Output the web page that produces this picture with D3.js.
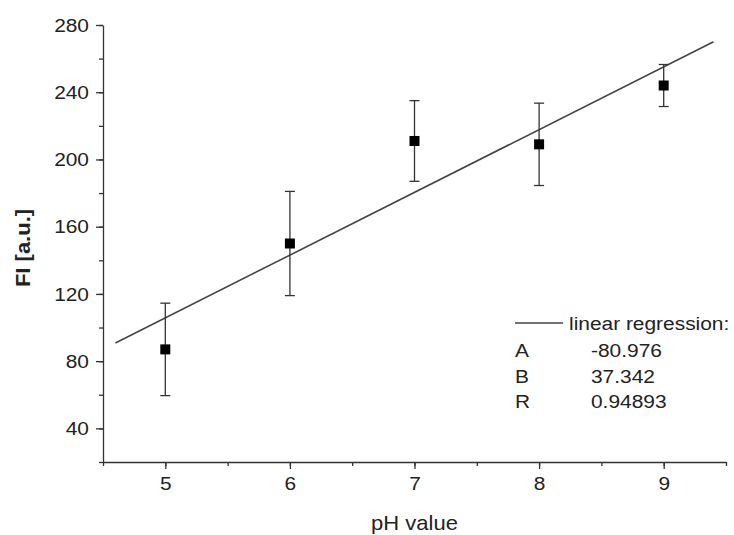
<!DOCTYPE html>
<html>
<head>
<meta charset="utf-8">
<script src="https://cdn.jsdelivr.net/npm/d3@7"></script>
<style>
  body { margin: 0; background: #fff; }
  text { font-family: "Liberation Sans", Arial, sans-serif; fill: #222; }
</style>
</head>
<body>
<div class="chart"></div>
<script>
// measured values
var phValues = [5, 6, 7, 8, 9];
var fiValues = [87, 150, 211, 209, 244];
var fiErrors = [27.5, 31, 24, 24.5, 12.5];

// regression from the legend
var regA = -80.976;
var regB = 37.342;
var regR = 0.94893;
var regRange = [4.6, 9.4];

var xTicks = [5, 6, 7, 8, 9];
var yTicks = [40, 80, 120, 160, 200, 240, 280];

var width = 734, height = 535;
var margin = { top: 25, right: 8, bottom: 73, left: 103 };
var stretch = 1.1; // the original font runs a bit wide

var svg = d3.select('.chart')
  .append('svg')
  .attr('width', width)
  .attr('height', height);

var xScale = d3.scaleLinear()
  .domain([4.5, 9.5])
  .range([margin.left, width - margin.right]);

var yScale = d3.scaleLinear()
  .domain([20, 280])
  .range([height - margin.bottom, margin.top]);

var axisColor = '#333';

// minor ticks first, majors on top
svg.append('g')
  .attr('transform', `translate(0, ${height - margin.bottom})`)
  .call(d3.axisBottom(xScale).tickValues(d3.range(4.5, 9.6, 0.5)).tickSize(4).tickFormat(''))
  .call(g => g.select('.domain').remove());

svg.append('g')
  .attr('transform', `translate(${margin.left}, 0)`)
  .call(d3.axisLeft(yScale).tickValues(d3.range(20, 281, 20)).tickSize(4).tickFormat(''))
  .call(g => g.select('.domain').remove());

var xAxis = svg.append('g')
  .attr('transform', `translate(0, ${height - margin.bottom})`)
  .call(d3.axisBottom(xScale).tickValues(xTicks).tickFormat(d3.format('d'))
    .tickSize(7).tickSizeOuter(0).tickPadding(8));

var yAxis = svg.append('g')
  .attr('transform', `translate(${margin.left}, 0)`)
  .call(d3.axisLeft(yScale).tickValues(yTicks).tickSize(7).tickSizeOuter(0).tickPadding(7));

svg.selectAll('.tick line, .domain')
  .attr('stroke', axisColor)
  .attr('stroke-width', 1.3);

svg.selectAll('.tick text')
  .style('font-size', '19px')
  .style('font-family', '"Liberation Sans", Arial, sans-serif')
  .attr('fill', '#222')
  .attr('x', function () { return (+d3.select(this).attr('x') || 0) / stretch; })
  .attr('transform', `scale(${stretch},1)`);

// axis titles
svg.append('text')
  .attr('transform', `translate(${(margin.left + width - margin.right) / 2}, 530) scale(${stretch},1)`)
  .attr('text-anchor', 'middle')
  .style('font-size', '20px')
  .text('pH value');

svg.append('text')
  .attr('transform', `translate(30, 248) rotate(-90) scale(${stretch},1)`)
  .attr('text-anchor', 'middle')
  .style('font-size', '20px')
  .style('font-weight', 'bold')
  .text('FI [a.u.]');

// regression line
var line = d3.line()
  .x(d => xScale(d))
  .y(d => yScale(regA + regB * d));

svg.append('path')
  .attr('d', line(regRange))
  .style('stroke', '#444')
  .style('stroke-width', 1.6)
  .style('fill', 'none');

// error bars
var points = phValues.map((x, i) => ({ x: x, y: fiValues[i], e: fiErrors[i] }));

var bars = svg.selectAll('.err')
  .data(points)
  .enter()
  .append('g')
  .attr('class', 'err')
  .style('stroke', '#333')
  .style('stroke-width', 1.3);

bars.append('line')
  .attr('x1', d => xScale(d.x))
  .attr('x2', d => xScale(d.x))
  .attr('y1', d => yScale(d.y - d.e))
  .attr('y2', d => yScale(d.y + d.e));

bars.append('line')
  .attr('x1', d => xScale(d.x) - 5)
  .attr('x2', d => xScale(d.x) + 5)
  .attr('y1', d => yScale(d.y + d.e))
  .attr('y2', d => yScale(d.y + d.e));

bars.append('line')
  .attr('x1', d => xScale(d.x) - 5)
  .attr('x2', d => xScale(d.x) + 5)
  .attr('y1', d => yScale(d.y - d.e))
  .attr('y2', d => yScale(d.y - d.e));

// square markers
svg.selectAll('.pt')
  .data(points)
  .enter()
  .append('rect')
  .attr('class', 'pt')
  .attr('x', d => xScale(d.x) - 5)
  .attr('y', d => yScale(d.y) - 5)
  .attr('width', 10)
  .attr('height', 10)
  .style('fill', '#000');

// legend
var legend = svg.append('g').attr('transform', 'translate(515, 323)');
legend.append('line')
  .attr('x1', 0).attr('x2', 48)
  .attr('y1', 0).attr('y2', 0)
  .style('stroke', '#444')
  .style('stroke-width', 1.6);
legend.append('text')
  .attr('transform', `translate(54, 7) scale(${stretch},1)`)
  .style('font-size', '19px')
  .text('linear regression:');

var legendRows = [['A', regA.toFixed(3)], ['B', regB.toFixed(3)], ['R', regR.toFixed(5)]];
legendRows.forEach((r, i) => {
  legend.append('text')
    .attr('transform', `translate(0, ${34 + i * 25.5}) scale(${stretch},1)`)
    .style('font-size', '19px')
    .text(r[0]);
  legend.append('text')
    .attr('transform', `translate(76, ${34 + i * 25.5}) scale(${stretch},1)`)
    .style('font-size', '19px')
    .text(r[1]);
});
</script>
</body>
</html>
